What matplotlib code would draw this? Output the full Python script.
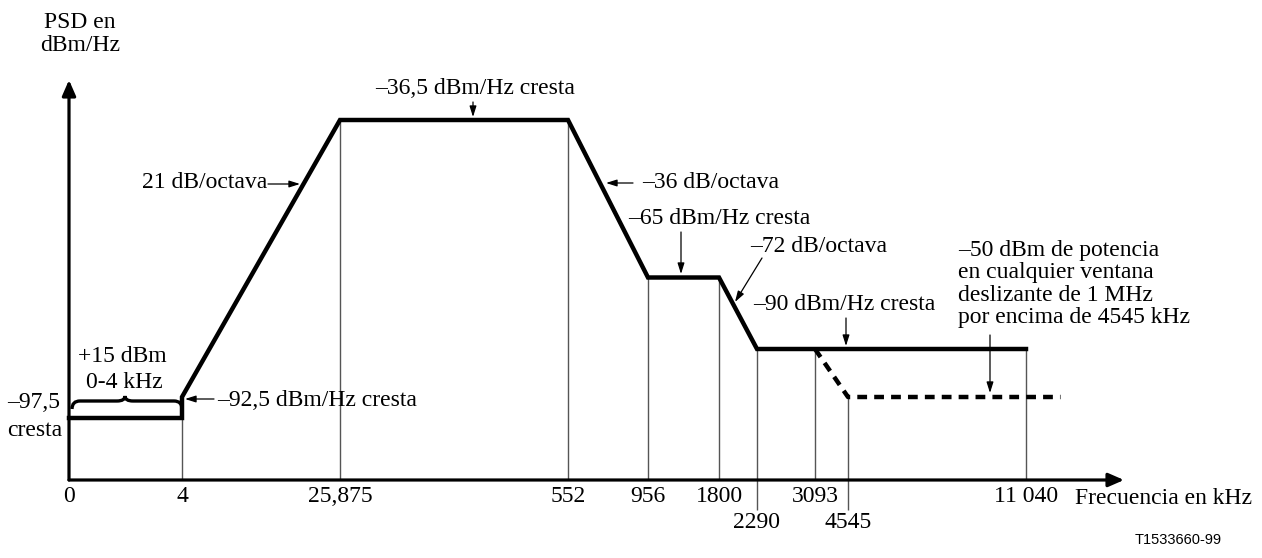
import numpy as np
import matplotlib
matplotlib.use('Agg')
import matplotlib.pyplot as plt
import matplotlib.transforms as mtransforms
from matplotlib.path import Path
from matplotlib.patches import PathPatch

# PSD mask breakpoints (kHz) and levels (dBm/Hz)
freq_labels = ['0', '4', '25,875', '552', '956', '1800', '2290', '3093', '4545', '11 040']
freq_ticks = [0, 4, 25.875, 552, 956, 1800, 2290, 3093, 4545, 11040]
mask_freq = [0, 4, 4, 25.875, 552, 956, 1800, 2290, 11040]
mask_level = [-97.5, -97.5, -92.5, -36.5, -36.5, -65, -65, -90, -90]
# -50 dBm in any 1 MHz window above 4545 kHz (drawn schematically)
window_freq = [3093, 4545, 12300]
window_level = [-90, -92.5, -92.5]
# vertical guide lines: frequency and level where the guide starts
guide_freq = [4, 25.875, 552, 956, 1800, 2290, 3093, 4545, 11040]
guide_level = [-97.5, -36.5, -36.5, -65, -65, -90, -90, -92.5, -90]

# the axes are not to scale: piecewise mapping of values to drawing units
x_pos = [0, 113, 271, 499, 579, 650, 688, 746, 779, 957]
y_val = [-97.5, -92.5, -90, -65, -36.5]
y_pos = [62, 83, 131, 202.5, 360]


def piecewise(vals, pos):
    vals = np.asarray(vals, float)
    pos = np.asarray(pos, float)

    def make(a, b):
        def f(v):
            v = np.asarray(v, float)
            out = np.interp(v, a, b)
            lo = b[0] + (v - a[0]) * (b[1] - b[0]) / (a[1] - a[0])
            hi = b[-1] + (v - a[-1]) * (b[-1] - b[-2]) / (a[-1] - a[-2])
            out = np.where(v < a[0], lo, out)
            out = np.where(v > a[-1], hi, out)
            return out
        return f
    return make(vals, pos), make(pos, vals)


fx, ix = piecewise(freq_ticks, x_pos)
fy, iy = piecewise(y_val, y_pos)

plt.rcParams['font.family'] = ['Liberation Serif', 'DejaVu Serif']
plt.rcParams['font.size'] = 17

W, H = 1262, 558
fig = plt.figure(figsize=(W / 100, H / 100), dpi=100)
ax = fig.add_axes([69 / W, 78 / H, 957 / W, 400 / H])
ax.set_xscale('function', functions=(fx, ix))
ax.set_yscale('function', functions=(fy, iy))
ax.set_xlim(0, 11040)
ax.set_ylim(float(iy(0)), float(iy(400)))
ax.axis('off')

# pixel coordinates measured from the top-left corner
px = mtransforms.Affine2D().scale(1 / W, -1 / H).translate(0, 1) + fig.transFigure

ybot = float(iy(0))
ax.vlines(guide_freq, ybot, guide_level, colors='#555555', lw=1.0, zorder=1, clip_on=False)
# guides 2290 and 4545 continue under the axis
ax.vlines([2290, 4545], float(iy(-30)), ybot, colors='#555555', lw=1.0, clip_on=False)

ax.plot(mask_freq, mask_level, color='black', lw=3.2, solid_joinstyle='miter', zorder=3,
        clip_on=False)
ax.plot(window_freq, window_level, color='black', lw=3.2, ls=(0, (2.2, 1.6)), clip_on=False, zorder=3)

# axes with arrow heads
axis_arrow = dict(arrowstyle='-|>,head_length=0.55,head_width=0.24', color='black', lw=2.3,
                  shrinkA=0, shrinkB=0)
ax.annotate('', xy=((1124 - 69) / 957, 0), xytext=(0, 0), xycoords='axes fraction',
            arrowprops=axis_arrow)
ax.annotate('', xy=(0, 1), xytext=(0, 0), xycoords='axes fraction', arrowprops=axis_arrow)

# tick labels below the axis
xt = ax.get_xaxis_transform()
for f, lbl in zip(freq_ticks, freq_labels):
    low = lbl in ('2290', '4545')
    ax.text(f, -0.1075 if low else -0.0425, lbl, transform=xt, ha='center', va='center')
ax.text(1075, 498, 'Frecuencia en kHz', transform=px, ha='left', va='center')
ax.text(80, 34, 'PSD en\ndBm/Hz', transform=px, ha='center', va='center', linespacing=1.1)
ax.text(1178, 540, 'T1533660-99', transform=px, ha='center', va='center',
        family='Liberation Sans', fontsize=10.5)

arr = dict(arrowstyle='-|>,head_length=0.38,head_width=0.12', color='black', lw=0.9,
           shrinkA=0, shrinkB=0)


def note(text, xy, xytext, **kw):
    ax.annotate(text, xy=xy, xycoords=px, xytext=xytext, textcoords=px,
                arrowprops=arr, **kw)


ax.text(142, 182, '21 dB/octava', transform=px, ha='left', va='center')
note('', (300, 184), (268, 184))
ax.text(475, 88, '–36,5 dBm/Hz cresta', transform=px, ha='center', va='center')
note('', (473, 117), (473, 102))
ax.text(642, 182, '–36 dB/octava', transform=px, ha='left', va='center')
note('', (606, 183), (633, 183))
ax.text(628, 219, '–65 dBm/Hz cresta', transform=px, ha='left', va='center')
note('', (681, 274), (681, 232))
ax.text(750, 246, '–72 dB/octava', transform=px, ha='left', va='center')
note('', (735, 302), (762, 258))
ax.text(753, 304, '–90 dBm/Hz cresta', transform=px, ha='left', va='center')
note('', (846, 346), (846, 318))
ax.text(958, 284, '–50 dBm de potencia\nen cualquier ventana\ndeslizante de 1 MHz\npor encima de 4545 kHz',
        transform=px, ha='left', va='center', linespacing=1.07)
note('', (990, 393), (990, 335))
ax.text(217, 401, '–92,5 dBm/Hz cresta', transform=px, ha='left', va='center')
note('', (185, 399), (214, 399))
ax.text(7, 403, '–97,5', transform=px, ha='left', va='center')
ax.text(7, 431, 'cresta', transform=px, ha='left', va='center')
ax.text(122, 356, '+15 dBm', transform=px, ha='center', va='center')
ax.text(124, 382, '0-4 kHz', transform=px, ha='center', va='center')

# curly brace over the 0-4 kHz band
verts = [(72, 409), (72, 401), (80, 401), (117, 401), (125, 401), (125, 396),
         (125, 401), (133, 401), (174, 401), (182, 401), (182, 409)]
codes = [Path.MOVETO, Path.CURVE3, Path.CURVE3, Path.LINETO, Path.CURVE3, Path.CURVE3,
         Path.CURVE3, Path.CURVE3, Path.LINETO, Path.CURVE3, Path.CURVE3]
fig.patches.append(PathPatch(Path(verts, codes), transform=px, fill=False, lw=2.4,
                             edgecolor='black'))

fig.savefig('out.png', dpi=100)
